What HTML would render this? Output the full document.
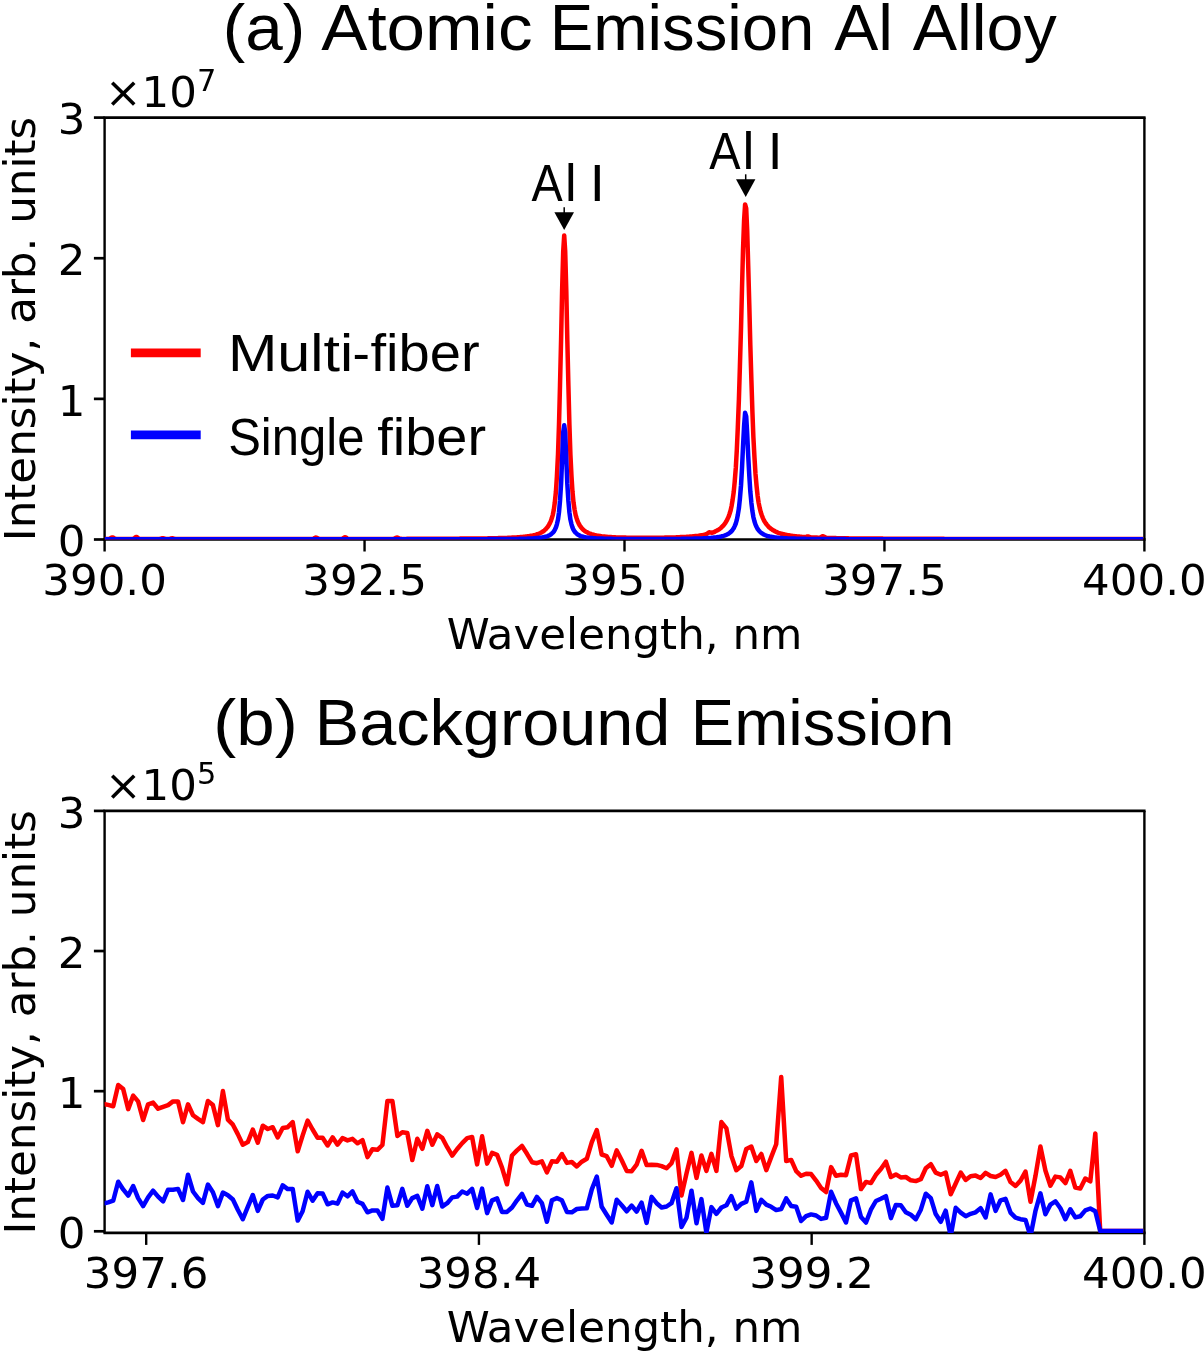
<!DOCTYPE html>
<html lang="en"><head><meta charset="utf-8"><title>Emission spectra</title>
<style>html,body{margin:0;padding:0;background:#fff}svg{display:block;font-family:"DejaVu Sans","Liberation Sans",sans-serif}svg text{white-space:pre}.ls{font-family:"Liberation Sans",sans-serif}</style></head>
<body>
<svg width="1204" height="1352" viewBox="0 0 1204 1352" role="img" aria-label="Emission spectra: multi-fiber versus single fiber" fill="#000">
<rect width="1204" height="1352" fill="#fff"/>
<defs><clipPath id="ca"><rect x="104.6" y="117.6" width="1039.8" height="421.9"/></clipPath><clipPath id="cb"><rect x="104.6" y="810.9" width="1039.8" height="422"/></clipPath></defs>
<path d="M103.4,117.6H1145.6M103.4,539.5H1145.6" stroke="#000" stroke-width="2.7" fill="none"/>
<path d="M104.6,117.6V539.5M1144.4,117.6V539.5" stroke="#000" stroke-width="2.4" fill="none"/>
<line x1="93.9" y1="539.50" x2="104.6" y2="539.50" stroke="#000" stroke-width="2.7"/>
<text x="85.5" y="556.20" text-anchor="end" font-size="43.5">0</text>
<line x1="93.9" y1="398.87" x2="104.6" y2="398.87" stroke="#000" stroke-width="2.7"/>
<text x="85.5" y="415.57" text-anchor="end" font-size="43.5">1</text>
<line x1="93.9" y1="258.23" x2="104.6" y2="258.23" stroke="#000" stroke-width="2.7"/>
<text x="85.5" y="274.93" text-anchor="end" font-size="43.5">2</text>
<line x1="93.9" y1="117.60" x2="104.6" y2="117.60" stroke="#000" stroke-width="2.7"/>
<text x="85.5" y="134.30" text-anchor="end" font-size="43.5">3</text>
<line x1="104.60" y1="539.5" x2="104.60" y2="551.5" stroke="#000" stroke-width="2.4"/>
<text x="104.60" y="594.5" text-anchor="middle" font-size="43.5" textLength="124.6" lengthAdjust="spacingAndGlyphs">390.0</text>
<line x1="364.55" y1="539.5" x2="364.55" y2="551.5" stroke="#000" stroke-width="2.4"/>
<text x="364.55" y="594.5" text-anchor="middle" font-size="43.5" textLength="124.6" lengthAdjust="spacingAndGlyphs">392.5</text>
<line x1="624.50" y1="539.5" x2="624.50" y2="551.5" stroke="#000" stroke-width="2.4"/>
<text x="624.50" y="594.5" text-anchor="middle" font-size="43.5" textLength="124.6" lengthAdjust="spacingAndGlyphs">395.0</text>
<line x1="884.45" y1="539.5" x2="884.45" y2="551.5" stroke="#000" stroke-width="2.4"/>
<text x="884.45" y="594.5" text-anchor="middle" font-size="43.5" textLength="124.6" lengthAdjust="spacingAndGlyphs">397.5</text>
<line x1="1144.40" y1="539.5" x2="1144.40" y2="551.5" stroke="#000" stroke-width="2.4"/>
<text x="1144.40" y="594.5" text-anchor="middle" font-size="43.5" textLength="124.6" lengthAdjust="spacingAndGlyphs">400.0</text>
<text x="624.50" y="648.8" text-anchor="middle" font-size="43.5" textLength="355.7" lengthAdjust="spacingAndGlyphs">Wavelength, nm</text>
<text transform="translate(34.7,328.95) rotate(-90)" text-anchor="middle" font-size="43.5" textLength="424.5" lengthAdjust="spacingAndGlyphs">Intensity, arb. units</text>
<text x="105.1" y="107.00" font-size="43.5">×10<tspan dy="-16.5" font-size="30.45">7</tspan></text>
<g clip-path="url(#ca)" fill="none" stroke-linejoin="round" stroke-linecap="butt">
<path d="M104.6,539.0 L105.6,539.0 L106.7,539.0 L107.7,539.0 L108.8,538.9 L109.8,538.7 L110.8,538.0 L111.9,537.4 L112.9,537.5 L114.0,538.2 L115.0,538.7 L116.0,539.0 L117.1,539.0 L118.1,539.0 L119.2,539.0 L120.2,539.0 L121.2,539.0 L122.3,539.0 L123.3,539.0 L124.4,539.0 L125.4,539.0 L126.4,539.0 L127.5,539.0 L128.5,539.0 L129.6,539.0 L130.6,539.0 L131.6,539.0 L132.7,538.9 L133.7,538.5 L134.8,537.7 L135.8,536.9 L136.8,537.0 L137.9,537.9 L138.9,538.7 L140.0,538.9 L141.0,539.0 L142.0,539.0 L143.1,539.0 L144.1,539.0 L145.2,539.0 L146.2,539.0 L147.2,539.0 L148.3,539.0 L149.3,539.0 L150.4,539.0 L151.4,539.0 L152.4,539.0 L153.5,539.0 L154.5,539.0 L155.6,539.0 L156.6,539.0 L157.6,539.0 L158.7,539.0 L159.7,538.9 L160.7,538.6 L161.8,538.3 L162.8,538.2 L163.9,538.5 L164.9,538.8 L165.9,539.0 L167.0,539.0 L168.0,539.0 L169.1,538.9 L170.1,538.7 L171.1,538.4 L172.2,538.3 L173.2,538.5 L174.3,538.8 L175.3,539.0 L176.3,539.0 L177.4,539.0 L178.4,539.0 L179.5,539.0 L180.5,539.0 L181.5,539.0 L182.6,539.0 L183.6,539.0 L184.7,539.0 L185.7,539.0 L186.7,539.0 L187.8,539.0 L188.8,539.0 L189.9,539.0 L190.9,539.0 L191.9,539.0 L193.0,539.0 L194.0,539.0 L195.1,539.0 L196.1,539.0 L197.1,539.0 L198.2,539.0 L199.2,539.0 L200.3,539.0 L201.3,539.0 L202.3,539.0 L203.4,539.0 L204.4,539.0 L205.5,539.0 L206.5,539.0 L207.5,539.0 L208.6,539.0 L209.6,539.0 L210.7,539.0 L211.7,539.0 L212.7,539.0 L213.8,539.0 L214.8,539.0 L215.9,539.0 L216.9,539.0 L217.9,539.0 L219.0,539.0 L220.0,539.0 L221.1,539.0 L222.1,539.0 L223.1,539.0 L224.2,539.0 L225.2,539.0 L226.3,539.0 L227.3,539.0 L228.3,539.0 L229.4,539.0 L230.4,539.0 L231.5,539.0 L232.5,539.0 L233.5,539.0 L234.6,539.0 L235.6,539.0 L236.7,539.0 L237.7,539.0 L238.7,539.0 L239.8,539.0 L240.8,539.0 L241.9,539.0 L242.9,539.0 L243.9,539.0 L245.0,539.0 L246.0,539.0 L247.1,539.0 L248.1,539.0 L249.1,539.0 L250.2,539.0 L251.2,539.0 L252.3,539.0 L253.3,539.0 L254.3,539.0 L255.4,539.0 L256.4,539.0 L257.5,539.0 L258.5,539.0 L259.5,539.0 L260.6,539.0 L261.6,539.0 L262.6,539.0 L263.7,539.0 L264.7,539.0 L265.8,539.0 L266.8,539.0 L267.8,539.0 L268.9,539.0 L269.9,539.0 L271.0,539.0 L272.0,539.0 L273.0,539.0 L274.1,539.0 L275.1,539.0 L276.2,539.0 L277.2,539.0 L278.2,539.0 L279.3,539.0 L280.3,539.0 L281.4,539.0 L282.4,539.0 L283.4,539.0 L284.5,539.0 L285.5,539.0 L286.6,539.0 L287.6,539.0 L288.6,539.0 L289.7,539.0 L290.7,539.0 L291.8,539.0 L292.8,539.0 L293.8,539.0 L294.9,539.0 L295.9,539.0 L297.0,539.0 L298.0,539.0 L299.0,539.0 L300.1,539.0 L301.1,539.0 L302.2,539.0 L303.2,539.0 L304.2,539.0 L305.3,539.0 L306.3,539.0 L307.4,539.0 L308.4,539.0 L309.4,539.0 L310.5,539.0 L311.5,538.9 L312.6,538.9 L313.6,538.6 L314.6,538.1 L315.7,537.6 L316.7,537.7 L317.8,538.3 L318.8,538.8 L319.8,538.9 L320.9,538.9 L321.9,539.0 L323.0,539.0 L324.0,539.0 L325.0,538.9 L326.1,538.9 L327.1,538.9 L328.2,538.9 L329.2,538.9 L330.2,538.9 L331.3,538.9 L332.3,538.9 L333.4,538.9 L334.4,538.9 L335.4,538.9 L336.5,538.9 L337.5,538.9 L338.6,538.9 L339.6,538.9 L340.6,538.9 L341.7,538.8 L342.7,538.5 L343.8,537.8 L344.8,537.3 L345.8,537.5 L346.9,538.2 L347.9,538.7 L349.0,538.9 L350.0,538.9 L351.0,538.9 L352.1,538.9 L353.1,538.9 L354.2,538.9 L355.2,538.9 L356.2,538.9 L357.3,538.9 L358.3,538.9 L359.4,538.9 L360.4,538.9 L361.4,538.9 L362.5,538.9 L363.5,538.9 L364.6,538.9 L365.6,538.9 L366.6,538.9 L367.7,538.9 L368.7,538.9 L369.7,538.9 L370.8,538.9 L371.8,538.9 L372.9,538.9 L373.9,538.9 L374.9,538.9 L376.0,538.9 L377.0,538.9 L378.1,538.9 L379.1,538.9 L380.1,538.9 L381.2,538.9 L382.2,538.9 L383.3,538.9 L384.3,538.9 L385.3,538.9 L386.4,538.9 L387.4,538.9 L388.5,538.9 L389.5,538.9 L390.5,538.9 L391.6,538.9 L392.6,538.9 L393.7,538.8 L394.7,538.5 L395.7,537.9 L396.8,537.5 L397.8,537.7 L398.9,538.3 L399.9,538.7 L400.9,538.8 L402.0,538.9 L403.0,538.9 L404.1,538.9 L405.1,538.9 L406.1,538.9 L407.2,538.8 L408.2,538.8 L409.3,538.8 L410.3,538.8 L411.3,538.8 L412.4,538.8 L413.4,538.8 L414.5,538.8 L415.5,538.8 L416.5,538.8 L417.6,538.8 L418.6,538.8 L419.7,538.8 L420.7,538.8 L421.7,538.8 L422.8,538.8 L423.8,538.8 L424.9,538.8 L425.9,538.8 L426.9,538.8 L428.0,538.8 L429.0,538.8 L430.1,538.8 L431.1,538.8 L432.1,538.8 L433.2,538.8 L434.2,538.8 L435.3,538.8 L436.3,538.8 L437.3,538.8 L438.4,538.8 L439.4,538.8 L440.5,538.7 L441.5,538.7 L442.5,538.7 L443.6,538.7 L444.6,538.7 L445.7,538.7 L446.7,538.7 L447.7,538.7 L448.8,538.7 L449.8,538.7 L450.9,538.7 L451.9,538.7 L452.9,538.7 L454.0,538.7 L455.0,538.7 L456.1,538.7 L457.1,538.7 L458.1,538.7 L459.2,538.7 L460.2,538.6 L461.3,538.6 L462.3,538.6 L463.3,538.6 L464.4,538.6 L465.4,538.6 L466.5,538.6 L467.5,538.6 L468.5,538.6 L469.6,538.6 L470.6,538.6 L471.6,538.6 L472.7,538.5 L473.7,538.5 L474.8,538.5 L475.8,538.5 L476.8,538.5 L477.9,538.5 L478.9,538.5 L480.0,538.5 L481.0,538.4 L482.0,538.4 L483.1,538.4 L484.1,538.4 L485.2,538.4 L486.2,538.4 L487.2,538.4 L488.3,538.3 L489.3,538.3 L490.4,538.3 L491.4,538.3 L492.4,538.3 L493.5,538.2 L494.5,538.2 L495.6,538.2 L496.6,538.2 L497.6,538.2 L498.7,538.1 L499.7,538.1 L500.8,538.1 L501.8,538.0 L502.8,538.0 L503.9,538.0 L504.9,537.9 L506.0,537.9 L507.0,537.9 L508.0,537.8 L509.1,537.8 L510.1,537.7 L511.2,537.7 L512.2,537.6 L513.2,537.6 L514.3,537.5 L515.3,537.5 L516.4,537.4 L517.4,537.3 L518.4,537.3 L519.5,537.2 L520.5,537.1 L521.6,537.0 L522.6,536.9 L523.6,536.8 L524.7,536.7 L525.7,536.6 L526.8,536.5 L527.8,536.3 L528.8,536.2 L529.9,536.0 L530.9,535.8 L532.0,535.6 L533.0,535.4 L534.0,535.1 L535.1,534.9 L536.1,534.6 L537.2,534.2 L538.2,533.9 L539.2,533.5 L540.3,533.0 L541.3,532.5 L542.4,531.8 L543.4,531.2 L544.4,530.4 L545.5,529.4 L546.5,528.3 L547.6,527.1 L548.6,525.5 L549.6,523.7 L550.7,521.4 L551.7,518.6 L552.8,514.8 L553.8,509.7 L554.8,502.4 L555.9,491.8 L556.9,476.4 L558.0,454.4 L559.0,424.3 L560.0,385.5 L561.1,339.3 L562.1,290.9 L563.2,251.3 L564.2,235.5 L565.2,251.3 L566.3,290.9 L567.3,339.3 L568.4,385.5 L569.4,424.3 L570.4,454.3 L571.5,476.3 L572.5,491.8 L573.5,502.4 L574.6,509.6 L575.6,514.8 L576.7,518.5 L577.7,521.4 L578.7,523.6 L579.8,525.5 L580.8,527.0 L581.9,528.3 L582.9,529.3 L583.9,530.3 L585.0,531.1 L586.0,531.7 L587.1,532.3 L588.1,532.9 L589.1,533.3 L590.2,533.7 L591.2,534.1 L592.3,534.4 L593.3,534.7 L594.3,535.0 L595.4,535.2 L596.4,535.4 L597.5,535.6 L598.5,535.8 L599.5,536.0 L600.6,536.1 L601.6,536.3 L602.7,536.4 L603.7,536.5 L604.7,536.6 L605.8,536.7 L606.8,536.8 L607.9,536.9 L608.9,537.0 L609.9,537.0 L611.0,537.1 L612.0,537.2 L613.1,537.2 L614.1,537.3 L615.1,537.3 L616.2,537.4 L617.2,537.4 L618.3,537.4 L619.3,537.5 L620.3,537.5 L621.4,537.5 L622.4,537.6 L623.5,537.6 L624.5,537.6 L625.5,537.6 L626.6,537.7 L627.6,537.7 L628.7,537.7 L629.7,537.7 L630.7,537.7 L631.8,537.8 L632.8,537.8 L633.9,537.8 L634.9,537.8 L635.9,537.8 L637.0,537.8 L638.0,537.8 L639.1,537.8 L640.1,537.8 L641.1,537.8 L642.2,537.8 L643.2,537.8 L644.3,537.8 L645.3,537.8 L646.3,537.8 L647.4,537.8 L648.4,537.8 L649.5,537.8 L650.5,537.8 L651.5,537.8 L652.6,537.8 L653.6,537.8 L654.7,537.8 L655.7,537.8 L656.7,537.8 L657.8,537.8 L658.8,537.7 L659.9,537.7 L660.9,537.7 L661.9,537.7 L663.0,537.7 L664.0,537.7 L665.1,537.6 L666.1,537.6 L667.1,537.6 L668.2,537.6 L669.2,537.5 L670.3,537.5 L671.3,537.5 L672.3,537.5 L673.4,537.4 L674.4,537.4 L675.5,537.4 L676.5,537.3 L677.5,537.3 L678.6,537.2 L679.6,537.2 L680.6,537.1 L681.7,537.1 L682.7,537.0 L683.8,537.0 L684.8,536.9 L685.8,536.9 L686.9,536.8 L687.9,536.7 L689.0,536.7 L690.0,536.6 L691.0,536.5 L692.1,536.4 L693.1,536.3 L694.2,536.2 L695.2,536.1 L696.2,536.0 L697.3,535.9 L698.3,535.8 L699.4,535.6 L700.4,535.5 L701.4,535.3 L702.5,535.2 L703.5,535.0 L704.6,534.8 L705.6,534.5 L706.6,534.0 L707.7,533.2 L708.7,532.5 L709.8,532.3 L710.8,532.6 L711.8,532.7 L712.9,532.5 L713.9,532.1 L715.0,531.6 L716.0,531.1 L717.0,530.6 L718.1,530.0 L719.1,529.3 L720.2,528.5 L721.2,527.7 L722.2,526.7 L723.3,525.6 L724.3,524.3 L725.4,522.9 L726.4,521.2 L727.4,519.2 L728.5,516.9 L729.5,514.0 L730.6,510.5 L731.6,505.9 L732.6,500.0 L733.7,492.1 L734.7,481.7 L735.8,468.0 L736.8,450.2 L737.8,427.6 L738.9,399.7 L739.9,366.5 L741.0,328.8 L742.0,288.8 L743.0,250.4 L744.1,219.9 L745.1,204.4 L746.2,208.4 L747.2,230.7 L748.2,265.2 L749.3,304.9 L750.3,344.3 L751.4,380.4 L752.4,411.5 L753.4,437.3 L754.5,457.9 L755.5,474.0 L756.6,486.3 L757.6,495.6 L758.6,502.6 L759.7,507.9 L760.7,512.0 L761.8,515.3 L762.8,517.9 L763.8,520.1 L764.9,522.0 L765.9,523.5 L767.0,524.9 L768.0,526.1 L769.0,527.2 L770.1,528.1 L771.1,528.9 L772.2,529.6 L773.2,530.3 L774.2,530.9 L775.3,531.4 L776.3,531.9 L777.4,532.4 L778.4,532.8 L779.4,533.1 L780.5,533.5 L781.5,533.8 L782.5,534.0 L783.6,534.3 L784.6,534.5 L785.7,534.8 L786.7,535.0 L787.7,535.2 L788.8,535.3 L789.8,535.5 L790.9,535.7 L791.9,535.8 L792.9,535.9 L794.0,536.1 L795.0,536.2 L796.1,536.3 L797.1,536.4 L798.1,536.5 L799.2,536.6 L800.2,536.7 L801.3,536.8 L802.3,536.9 L803.3,536.9 L804.4,537.0 L805.4,536.9 L806.5,536.7 L807.5,536.4 L808.5,536.5 L809.6,536.9 L810.6,537.2 L811.7,537.4 L812.7,537.5 L813.7,537.5 L814.8,537.6 L815.8,537.6 L816.9,537.6 L817.9,537.7 L818.9,537.7 L820.0,537.6 L821.0,537.2 L822.1,536.5 L823.1,536.2 L824.1,536.7 L825.2,537.4 L826.2,537.8 L827.3,537.9 L828.3,538.0 L829.3,538.0 L830.4,538.0 L831.4,538.1 L832.5,538.1 L833.5,538.1 L834.5,538.1 L835.6,538.1 L836.6,538.2 L837.7,538.2 L838.7,538.2 L839.7,538.2 L840.8,538.2 L841.8,538.3 L842.9,538.3 L843.9,538.3 L844.9,538.3 L846.0,538.3 L847.0,538.3 L848.1,538.3 L849.1,538.4 L850.1,538.4 L851.2,538.4 L852.2,538.4 L853.3,538.4 L854.3,538.4 L855.3,538.4 L856.4,538.4 L857.4,538.5 L858.5,538.5 L859.5,538.5 L860.5,538.5 L861.6,538.5 L862.6,538.5 L863.7,538.5 L864.7,538.5 L865.7,538.5 L866.8,538.5 L867.8,538.5 L868.9,538.6 L869.9,538.6 L870.9,538.6 L872.0,538.6 L873.0,538.6 L874.1,538.6 L875.1,538.6 L876.1,538.6 L877.2,538.6 L878.2,538.6 L879.3,538.6 L880.3,538.6 L881.3,538.6 L882.4,538.6 L883.4,538.7 L884.5,538.7 L885.5,538.7 L886.5,538.7 L887.6,538.7 L888.6,538.7 L889.6,538.7 L890.7,538.7 L891.7,538.7 L892.8,538.7 L893.8,538.7 L894.8,538.7 L895.9,538.7 L896.9,538.7 L898.0,538.7 L899.0,538.7 L900.0,538.7 L901.1,538.7 L902.1,538.7 L903.2,538.7 L904.2,538.7 L905.2,538.7 L906.3,538.8 L907.3,538.8 L908.4,538.8 L909.4,538.8 L910.4,538.8 L911.5,538.8 L912.5,538.8 L913.6,538.8 L914.6,538.8 L915.6,538.8 L916.7,538.8 L917.7,538.8 L918.8,538.8 L919.8,538.8 L920.8,538.8 L921.9,538.8 L922.9,538.8 L924.0,538.8 L925.0,538.8 L926.0,538.8 L927.1,538.8 L928.1,538.8 L929.2,538.8 L930.2,538.8 L931.2,538.8 L932.3,538.8 L933.3,538.8 L934.4,538.8 L935.4,538.8 L936.4,538.8 L937.5,538.8 L938.5,538.8 L939.6,538.8 L940.6,538.8 L941.6,538.8 L942.7,538.8 L943.7,538.8 L944.8,538.9 L945.8,538.9 L946.8,538.9 L947.9,538.9 L948.9,538.9 L950.0,538.9 L951.0,538.9 L952.0,538.9 L953.1,538.9 L954.1,538.9 L955.2,538.9 L956.2,538.9 L957.2,538.9 L958.3,538.9 L959.3,538.9 L960.4,538.9 L961.4,538.9 L962.4,538.9 L963.5,538.9 L964.5,538.9 L965.6,538.9 L966.6,538.9 L967.6,538.9 L968.7,538.9 L969.7,538.9 L970.8,538.9 L971.8,538.9 L972.8,538.9 L973.9,538.9 L974.9,538.9 L976.0,538.9 L977.0,538.9 L978.0,538.9 L979.1,538.9 L980.1,538.9 L981.2,538.9 L982.2,538.9 L983.2,538.9 L984.3,538.9 L985.3,538.9 L986.4,538.9 L987.4,538.9 L988.4,538.9 L989.5,538.9 L990.5,538.9 L991.5,538.9 L992.6,538.9 L993.6,538.9 L994.7,538.9 L995.7,538.9 L996.7,538.9 L997.8,538.9 L998.8,538.9 L999.9,538.9 L1000.9,538.9 L1001.9,538.9 L1003.0,538.9 L1004.0,538.9 L1005.1,538.9 L1006.1,538.9 L1007.1,538.9 L1008.2,538.9 L1009.2,538.9 L1010.3,538.9 L1011.3,538.9 L1012.3,538.9 L1013.4,538.9 L1014.4,538.9 L1015.5,538.9 L1016.5,538.9 L1017.5,538.9 L1018.6,538.9 L1019.6,538.9 L1020.7,538.9 L1021.7,538.9 L1022.7,538.9 L1023.8,538.9 L1024.8,538.9 L1025.9,538.9 L1026.9,538.9 L1027.9,538.9 L1029.0,538.9 L1030.0,538.9 L1031.1,538.9 L1032.1,538.9 L1033.1,539.0 L1034.2,539.0 L1035.2,539.0 L1036.3,539.0 L1037.3,539.0 L1038.3,539.0 L1039.4,539.0 L1040.4,539.0 L1041.5,539.0 L1042.5,539.0 L1043.5,539.0 L1044.6,539.0 L1045.6,539.0 L1046.7,539.0 L1047.7,539.0 L1048.7,539.0 L1049.8,539.0 L1050.8,539.0 L1051.9,539.0 L1052.9,539.0 L1053.9,539.0 L1055.0,539.0 L1056.0,539.0 L1057.1,539.0 L1058.1,539.0 L1059.1,539.0 L1060.2,539.0 L1061.2,539.0 L1062.3,539.0 L1063.3,539.0 L1064.3,539.0 L1065.4,539.0 L1066.4,539.0 L1067.5,539.0 L1068.5,539.0 L1069.5,539.0 L1070.6,539.0 L1071.6,539.0 L1072.7,539.0 L1073.7,539.0 L1074.7,539.0 L1075.8,539.0 L1076.8,539.0 L1077.9,539.0 L1078.9,539.0 L1079.9,539.0 L1081.0,539.0 L1082.0,539.0 L1083.1,539.0 L1084.1,539.0 L1085.1,539.0 L1086.2,539.0 L1087.2,539.0 L1088.3,539.0 L1089.3,539.0 L1090.3,539.0 L1091.4,539.0 L1092.4,539.0 L1093.4,539.0 L1094.5,539.0 L1095.5,539.0 L1096.6,539.0 L1097.6,539.0 L1098.6,539.0 L1099.7,539.0 L1100.7,539.0 L1101.8,539.0 L1102.8,539.0 L1103.8,539.0 L1104.9,539.0 L1105.9,539.0 L1107.0,539.0 L1108.0,539.0 L1109.0,539.0 L1110.1,539.0 L1111.1,539.0 L1112.2,539.0 L1113.2,539.0 L1114.2,539.0 L1115.3,539.0 L1116.3,539.0 L1117.4,539.0 L1118.4,539.0 L1119.4,539.0 L1120.5,539.0 L1121.5,539.0 L1122.6,539.0 L1123.6,539.0 L1124.6,539.0 L1125.7,539.0 L1126.7,539.0 L1127.8,539.0 L1128.8,539.0 L1129.8,539.0 L1130.9,539.0 L1131.9,539.0 L1133.0,539.0 L1134.0,539.0 L1135.0,539.0 L1136.1,539.0 L1137.1,539.0 L1138.2,539.0 L1139.2,539.0 L1140.2,539.0 L1141.3,539.0 L1142.3,539.0 L1143.2,539.0 L1143.2,539.0" stroke="#f00" stroke-width="4.5"/>
<path d="M104.6,539.3 L105.6,539.3 L106.7,539.3 L107.7,539.3 L108.8,539.3 L109.8,539.3 L110.8,539.3 L111.9,539.3 L112.9,539.3 L114.0,539.3 L115.0,539.3 L116.0,539.3 L117.1,539.3 L118.1,539.3 L119.2,539.3 L120.2,539.3 L121.2,539.3 L122.3,539.3 L123.3,539.3 L124.4,539.3 L125.4,539.3 L126.4,539.3 L127.5,539.3 L128.5,539.3 L129.6,539.3 L130.6,539.3 L131.6,539.3 L132.7,539.3 L133.7,539.3 L134.8,539.3 L135.8,539.3 L136.8,539.3 L137.9,539.3 L138.9,539.3 L140.0,539.3 L141.0,539.3 L142.0,539.3 L143.1,539.3 L144.1,539.3 L145.2,539.3 L146.2,539.3 L147.2,539.3 L148.3,539.3 L149.3,539.3 L150.4,539.3 L151.4,539.3 L152.4,539.3 L153.5,539.3 L154.5,539.3 L155.6,539.3 L156.6,539.3 L157.6,539.3 L158.7,539.3 L159.7,539.3 L160.7,539.3 L161.8,539.3 L162.8,539.3 L163.9,539.3 L164.9,539.3 L165.9,539.3 L167.0,539.3 L168.0,539.3 L169.1,539.3 L170.1,539.3 L171.1,539.3 L172.2,539.3 L173.2,539.3 L174.3,539.3 L175.3,539.3 L176.3,539.3 L177.4,539.3 L178.4,539.3 L179.5,539.3 L180.5,539.3 L181.5,539.3 L182.6,539.3 L183.6,539.3 L184.7,539.3 L185.7,539.3 L186.7,539.3 L187.8,539.3 L188.8,539.3 L189.9,539.3 L190.9,539.3 L191.9,539.3 L193.0,539.3 L194.0,539.3 L195.1,539.3 L196.1,539.3 L197.1,539.3 L198.2,539.3 L199.2,539.3 L200.3,539.3 L201.3,539.3 L202.3,539.3 L203.4,539.3 L204.4,539.3 L205.5,539.3 L206.5,539.3 L207.5,539.3 L208.6,539.3 L209.6,539.3 L210.7,539.3 L211.7,539.3 L212.7,539.3 L213.8,539.3 L214.8,539.3 L215.9,539.3 L216.9,539.3 L217.9,539.3 L219.0,539.3 L220.0,539.3 L221.1,539.3 L222.1,539.3 L223.1,539.3 L224.2,539.3 L225.2,539.3 L226.3,539.3 L227.3,539.3 L228.3,539.3 L229.4,539.3 L230.4,539.3 L231.5,539.3 L232.5,539.3 L233.5,539.3 L234.6,539.3 L235.6,539.3 L236.7,539.3 L237.7,539.3 L238.7,539.3 L239.8,539.3 L240.8,539.3 L241.9,539.3 L242.9,539.3 L243.9,539.3 L245.0,539.3 L246.0,539.3 L247.1,539.3 L248.1,539.3 L249.1,539.3 L250.2,539.3 L251.2,539.3 L252.3,539.3 L253.3,539.3 L254.3,539.3 L255.4,539.3 L256.4,539.3 L257.5,539.3 L258.5,539.3 L259.5,539.3 L260.6,539.3 L261.6,539.3 L262.6,539.3 L263.7,539.3 L264.7,539.3 L265.8,539.3 L266.8,539.3 L267.8,539.3 L268.9,539.3 L269.9,539.3 L271.0,539.3 L272.0,539.3 L273.0,539.3 L274.1,539.3 L275.1,539.3 L276.2,539.3 L277.2,539.3 L278.2,539.3 L279.3,539.3 L280.3,539.3 L281.4,539.3 L282.4,539.3 L283.4,539.3 L284.5,539.3 L285.5,539.3 L286.6,539.3 L287.6,539.3 L288.6,539.3 L289.7,539.3 L290.7,539.3 L291.8,539.3 L292.8,539.3 L293.8,539.3 L294.9,539.3 L295.9,539.3 L297.0,539.3 L298.0,539.3 L299.0,539.3 L300.1,539.3 L301.1,539.3 L302.2,539.3 L303.2,539.3 L304.2,539.3 L305.3,539.3 L306.3,539.3 L307.4,539.3 L308.4,539.3 L309.4,539.3 L310.5,539.3 L311.5,539.3 L312.6,539.3 L313.6,539.3 L314.6,539.3 L315.7,539.3 L316.7,539.3 L317.8,539.3 L318.8,539.3 L319.8,539.3 L320.9,539.3 L321.9,539.3 L323.0,539.3 L324.0,539.3 L325.0,539.3 L326.1,539.3 L327.1,539.3 L328.2,539.3 L329.2,539.3 L330.2,539.3 L331.3,539.3 L332.3,539.3 L333.4,539.3 L334.4,539.3 L335.4,539.3 L336.5,539.3 L337.5,539.3 L338.6,539.3 L339.6,539.3 L340.6,539.3 L341.7,539.3 L342.7,539.3 L343.8,539.3 L344.8,539.3 L345.8,539.3 L346.9,539.3 L347.9,539.3 L349.0,539.3 L350.0,539.3 L351.0,539.3 L352.1,539.3 L353.1,539.3 L354.2,539.3 L355.2,539.3 L356.2,539.3 L357.3,539.3 L358.3,539.3 L359.4,539.3 L360.4,539.3 L361.4,539.3 L362.5,539.3 L363.5,539.3 L364.6,539.3 L365.6,539.3 L366.6,539.3 L367.7,539.3 L368.7,539.3 L369.7,539.3 L370.8,539.3 L371.8,539.3 L372.9,539.3 L373.9,539.3 L374.9,539.3 L376.0,539.3 L377.0,539.3 L378.1,539.3 L379.1,539.3 L380.1,539.3 L381.2,539.3 L382.2,539.3 L383.3,539.3 L384.3,539.3 L385.3,539.3 L386.4,539.3 L387.4,539.3 L388.5,539.3 L389.5,539.3 L390.5,539.3 L391.6,539.3 L392.6,539.3 L393.7,539.3 L394.7,539.3 L395.7,539.3 L396.8,539.3 L397.8,539.3 L398.9,539.3 L399.9,539.3 L400.9,539.3 L402.0,539.3 L403.0,539.3 L404.1,539.3 L405.1,539.3 L406.1,539.3 L407.2,539.3 L408.2,539.3 L409.3,539.3 L410.3,539.3 L411.3,539.3 L412.4,539.3 L413.4,539.3 L414.5,539.3 L415.5,539.3 L416.5,539.3 L417.6,539.3 L418.6,539.3 L419.7,539.3 L420.7,539.3 L421.7,539.3 L422.8,539.3 L423.8,539.3 L424.9,539.3 L425.9,539.3 L426.9,539.3 L428.0,539.3 L429.0,539.3 L430.1,539.3 L431.1,539.3 L432.1,539.3 L433.2,539.3 L434.2,539.3 L435.3,539.3 L436.3,539.3 L437.3,539.3 L438.4,539.3 L439.4,539.3 L440.5,539.3 L441.5,539.3 L442.5,539.3 L443.6,539.3 L444.6,539.2 L445.7,539.2 L446.7,539.2 L447.7,539.2 L448.8,539.2 L449.8,539.2 L450.9,539.2 L451.9,539.2 L452.9,539.2 L454.0,539.2 L455.0,539.2 L456.1,539.2 L457.1,539.2 L458.1,539.2 L459.2,539.2 L460.2,539.2 L461.3,539.2 L462.3,539.2 L463.3,539.2 L464.4,539.2 L465.4,539.2 L466.5,539.2 L467.5,539.2 L468.5,539.2 L469.6,539.2 L470.6,539.2 L471.6,539.2 L472.7,539.2 L473.7,539.2 L474.8,539.2 L475.8,539.2 L476.8,539.2 L477.9,539.2 L478.9,539.2 L480.0,539.2 L481.0,539.2 L482.0,539.2 L483.1,539.2 L484.1,539.2 L485.2,539.2 L486.2,539.2 L487.2,539.2 L488.3,539.1 L489.3,539.1 L490.4,539.1 L491.4,539.1 L492.4,539.1 L493.5,539.1 L494.5,539.1 L495.6,539.1 L496.6,539.1 L497.6,539.1 L498.7,539.1 L499.7,539.1 L500.8,539.1 L501.8,539.1 L502.8,539.1 L503.9,539.1 L504.9,539.0 L506.0,539.0 L507.0,539.0 L508.0,539.0 L509.1,539.0 L510.1,539.0 L511.2,539.0 L512.2,539.0 L513.2,539.0 L514.3,538.9 L515.3,538.9 L516.4,538.9 L517.4,538.9 L518.4,538.9 L519.5,538.8 L520.5,538.8 L521.6,538.8 L522.6,538.8 L523.6,538.7 L524.7,538.7 L525.7,538.7 L526.8,538.7 L527.8,538.6 L528.8,538.6 L529.9,538.5 L530.9,538.5 L532.0,538.4 L533.0,538.4 L534.0,538.3 L535.1,538.2 L536.1,538.1 L537.2,538.1 L538.2,538.0 L539.2,537.8 L540.3,537.7 L541.3,537.6 L542.4,537.4 L543.4,537.2 L544.4,537.0 L545.5,536.8 L546.5,536.5 L547.6,536.1 L548.6,535.7 L549.6,535.2 L550.7,534.5 L551.7,533.7 L552.8,532.7 L553.8,531.5 L554.8,529.8 L555.9,527.5 L556.9,524.3 L558.0,519.6 L559.0,512.3 L560.0,501.0 L561.1,483.7 L562.1,459.4 L563.2,432.4 L564.2,425.2 L565.2,432.4 L566.3,459.4 L567.3,483.7 L568.4,501.0 L569.4,512.3 L570.4,519.6 L571.5,524.3 L572.5,527.5 L573.5,529.8 L574.6,531.5 L575.6,532.7 L576.7,533.7 L577.7,534.5 L578.7,535.1 L579.8,535.7 L580.8,536.1 L581.9,536.4 L582.9,536.7 L583.9,537.0 L585.0,537.2 L586.0,537.4 L587.1,537.6 L588.1,537.7 L589.1,537.8 L590.2,537.9 L591.2,538.0 L592.3,538.1 L593.3,538.2 L594.3,538.3 L595.4,538.3 L596.4,538.4 L597.5,538.4 L598.5,538.5 L599.5,538.5 L600.6,538.6 L601.6,538.6 L602.7,538.6 L603.7,538.7 L604.7,538.7 L605.8,538.7 L606.8,538.7 L607.9,538.8 L608.9,538.8 L609.9,538.8 L611.0,538.8 L612.0,538.8 L613.1,538.9 L614.1,538.9 L615.1,538.9 L616.2,538.9 L617.2,538.9 L618.3,538.9 L619.3,538.9 L620.3,538.9 L621.4,538.9 L622.4,539.0 L623.5,539.0 L624.5,539.0 L625.5,539.0 L626.6,539.0 L627.6,539.0 L628.7,539.0 L629.7,539.0 L630.7,539.0 L631.8,539.0 L632.8,539.0 L633.9,539.0 L634.9,539.0 L635.9,539.0 L637.0,539.0 L638.0,539.0 L639.1,539.0 L640.1,539.0 L641.1,539.0 L642.2,539.0 L643.2,539.0 L644.3,539.0 L645.3,539.0 L646.3,539.0 L647.4,539.0 L648.4,539.0 L649.5,539.0 L650.5,539.0 L651.5,539.0 L652.6,539.0 L653.6,539.0 L654.7,539.0 L655.7,539.0 L656.7,539.0 L657.8,539.0 L658.8,539.0 L659.9,539.0 L660.9,539.0 L661.9,539.0 L663.0,539.0 L664.0,539.0 L665.1,539.0 L666.1,539.0 L667.1,539.0 L668.2,539.0 L669.2,539.0 L670.3,539.0 L671.3,538.9 L672.3,538.9 L673.4,538.9 L674.4,538.9 L675.5,538.9 L676.5,538.9 L677.5,538.9 L678.6,538.9 L679.6,538.9 L680.6,538.9 L681.7,538.8 L682.7,538.8 L683.8,538.8 L684.8,538.8 L685.8,538.8 L686.9,538.8 L687.9,538.8 L689.0,538.7 L690.0,538.7 L691.0,538.7 L692.1,538.7 L693.1,538.7 L694.2,538.6 L695.2,538.6 L696.2,538.6 L697.3,538.6 L698.3,538.5 L699.4,538.5 L700.4,538.5 L701.4,538.4 L702.5,538.4 L703.5,538.3 L704.6,538.3 L705.6,538.2 L706.6,538.2 L707.7,538.1 L708.7,538.0 L709.8,538.0 L710.8,537.9 L711.8,537.8 L712.9,537.7 L713.9,537.6 L715.0,537.5 L716.0,537.4 L717.0,537.2 L718.1,537.1 L719.1,536.9 L720.2,536.7 L721.2,536.5 L722.2,536.2 L723.3,535.9 L724.3,535.6 L725.4,535.2 L726.4,534.8 L727.4,534.3 L728.5,533.7 L729.5,533.0 L730.6,532.1 L731.6,531.1 L732.6,529.8 L733.7,528.2 L734.7,526.1 L735.8,523.5 L736.8,519.9 L737.8,515.0 L738.9,508.2 L739.9,498.7 L741.0,485.5 L742.0,468.1 L743.0,446.9 L744.1,425.6 L745.1,412.8 L746.2,416.3 L747.2,433.7 L748.2,455.7 L749.3,475.6 L750.3,491.3 L751.4,502.9 L752.4,511.2 L753.4,517.2 L754.5,521.5 L755.5,524.6 L756.6,527.0 L757.6,528.9 L758.6,530.3 L759.7,531.5 L760.7,532.5 L761.8,533.3 L762.8,533.9 L763.8,534.5 L764.9,535.0 L765.9,535.4 L767.0,535.8 L768.0,536.1 L769.0,536.3 L770.1,536.6 L771.1,536.8 L772.2,537.0 L773.2,537.1 L774.2,537.3 L775.3,537.4 L776.3,537.6 L777.4,537.7 L778.4,537.8 L779.4,537.9 L780.5,537.9 L781.5,538.0 L782.5,538.1 L783.6,538.2 L784.6,538.2 L785.7,538.3 L786.7,538.3 L787.7,538.4 L788.8,538.4 L789.8,538.5 L790.9,538.5 L791.9,538.5 L792.9,538.6 L794.0,538.6 L795.0,538.6 L796.1,538.7 L797.1,538.7 L798.1,538.7 L799.2,538.7 L800.2,538.8 L801.3,538.8 L802.3,538.8 L803.3,538.8 L804.4,538.8 L805.4,538.8 L806.5,538.9 L807.5,538.9 L808.5,538.9 L809.6,538.9 L810.6,538.9 L811.7,538.9 L812.7,538.9 L813.7,539.0 L814.8,539.0 L815.8,539.0 L816.9,539.0 L817.9,539.0 L818.9,539.0 L820.0,539.0 L821.0,539.0 L822.1,539.0 L823.1,539.0 L824.1,539.0 L825.2,539.1 L826.2,539.1 L827.3,539.1 L828.3,539.1 L829.3,539.1 L830.4,539.1 L831.4,539.1 L832.5,539.1 L833.5,539.1 L834.5,539.1 L835.6,539.1 L836.6,539.1 L837.7,539.1 L838.7,539.1 L839.7,539.1 L840.8,539.1 L841.8,539.1 L842.9,539.1 L843.9,539.1 L844.9,539.1 L846.0,539.2 L847.0,539.2 L848.1,539.2 L849.1,539.2 L850.1,539.2 L851.2,539.2 L852.2,539.2 L853.3,539.2 L854.3,539.2 L855.3,539.2 L856.4,539.2 L857.4,539.2 L858.5,539.2 L859.5,539.2 L860.5,539.2 L861.6,539.2 L862.6,539.2 L863.7,539.2 L864.7,539.2 L865.7,539.2 L866.8,539.2 L867.8,539.2 L868.9,539.2 L869.9,539.2 L870.9,539.2 L872.0,539.2 L873.0,539.2 L874.1,539.2 L875.1,539.2 L876.1,539.2 L877.2,539.2 L878.2,539.2 L879.3,539.2 L880.3,539.2 L881.3,539.2 L882.4,539.2 L883.4,539.2 L884.5,539.2 L885.5,539.2 L886.5,539.2 L887.6,539.2 L888.6,539.2 L889.6,539.2 L890.7,539.2 L891.7,539.2 L892.8,539.2 L893.8,539.2 L894.8,539.2 L895.9,539.2 L896.9,539.2 L898.0,539.3 L899.0,539.3 L900.0,539.3 L901.1,539.3 L902.1,539.3 L903.2,539.3 L904.2,539.3 L905.2,539.3 L906.3,539.3 L907.3,539.3 L908.4,539.3 L909.4,539.3 L910.4,539.3 L911.5,539.3 L912.5,539.3 L913.6,539.3 L914.6,539.3 L915.6,539.3 L916.7,539.3 L917.7,539.3 L918.8,539.3 L919.8,539.3 L920.8,539.3 L921.9,539.3 L922.9,539.3 L924.0,539.3 L925.0,539.3 L926.0,539.3 L927.1,539.3 L928.1,539.3 L929.2,539.3 L930.2,539.3 L931.2,539.3 L932.3,539.3 L933.3,539.3 L934.4,539.3 L935.4,539.3 L936.4,539.3 L937.5,539.3 L938.5,539.3 L939.6,539.3 L940.6,539.3 L941.6,539.3 L942.7,539.3 L943.7,539.3 L944.8,539.3 L945.8,539.3 L946.8,539.3 L947.9,539.3 L948.9,539.3 L950.0,539.3 L951.0,539.3 L952.0,539.3 L953.1,539.3 L954.1,539.3 L955.2,539.3 L956.2,539.3 L957.2,539.3 L958.3,539.3 L959.3,539.3 L960.4,539.3 L961.4,539.3 L962.4,539.3 L963.5,539.3 L964.5,539.3 L965.6,539.3 L966.6,539.3 L967.6,539.3 L968.7,539.3 L969.7,539.3 L970.8,539.3 L971.8,539.3 L972.8,539.3 L973.9,539.3 L974.9,539.3 L976.0,539.3 L977.0,539.3 L978.0,539.3 L979.1,539.3 L980.1,539.3 L981.2,539.3 L982.2,539.3 L983.2,539.3 L984.3,539.3 L985.3,539.3 L986.4,539.3 L987.4,539.3 L988.4,539.3 L989.5,539.3 L990.5,539.3 L991.5,539.3 L992.6,539.3 L993.6,539.3 L994.7,539.3 L995.7,539.3 L996.7,539.3 L997.8,539.3 L998.8,539.3 L999.9,539.3 L1000.9,539.3 L1001.9,539.3 L1003.0,539.3 L1004.0,539.3 L1005.1,539.3 L1006.1,539.3 L1007.1,539.3 L1008.2,539.3 L1009.2,539.3 L1010.3,539.3 L1011.3,539.3 L1012.3,539.3 L1013.4,539.3 L1014.4,539.3 L1015.5,539.3 L1016.5,539.3 L1017.5,539.3 L1018.6,539.3 L1019.6,539.3 L1020.7,539.3 L1021.7,539.3 L1022.7,539.3 L1023.8,539.3 L1024.8,539.3 L1025.9,539.3 L1026.9,539.3 L1027.9,539.3 L1029.0,539.3 L1030.0,539.3 L1031.1,539.3 L1032.1,539.3 L1033.1,539.3 L1034.2,539.3 L1035.2,539.3 L1036.3,539.3 L1037.3,539.3 L1038.3,539.3 L1039.4,539.3 L1040.4,539.3 L1041.5,539.3 L1042.5,539.3 L1043.5,539.3 L1044.6,539.3 L1045.6,539.3 L1046.7,539.3 L1047.7,539.3 L1048.7,539.3 L1049.8,539.3 L1050.8,539.3 L1051.9,539.3 L1052.9,539.3 L1053.9,539.3 L1055.0,539.3 L1056.0,539.3 L1057.1,539.3 L1058.1,539.3 L1059.1,539.3 L1060.2,539.3 L1061.2,539.3 L1062.3,539.3 L1063.3,539.3 L1064.3,539.3 L1065.4,539.3 L1066.4,539.3 L1067.5,539.3 L1068.5,539.3 L1069.5,539.3 L1070.6,539.3 L1071.6,539.3 L1072.7,539.3 L1073.7,539.3 L1074.7,539.3 L1075.8,539.3 L1076.8,539.3 L1077.9,539.3 L1078.9,539.3 L1079.9,539.3 L1081.0,539.3 L1082.0,539.3 L1083.1,539.3 L1084.1,539.3 L1085.1,539.3 L1086.2,539.3 L1087.2,539.3 L1088.3,539.3 L1089.3,539.3 L1090.3,539.3 L1091.4,539.3 L1092.4,539.3 L1093.4,539.3 L1094.5,539.3 L1095.5,539.3 L1096.6,539.3 L1097.6,539.3 L1098.6,539.3 L1099.7,539.3 L1100.7,539.3 L1101.8,539.3 L1102.8,539.3 L1103.8,539.3 L1104.9,539.3 L1105.9,539.3 L1107.0,539.3 L1108.0,539.3 L1109.0,539.3 L1110.1,539.3 L1111.1,539.3 L1112.2,539.3 L1113.2,539.3 L1114.2,539.3 L1115.3,539.3 L1116.3,539.3 L1117.4,539.3 L1118.4,539.3 L1119.4,539.3 L1120.5,539.3 L1121.5,539.3 L1122.6,539.3 L1123.6,539.3 L1124.6,539.3 L1125.7,539.3 L1126.7,539.3 L1127.8,539.3 L1128.8,539.3 L1129.8,539.3 L1130.9,539.3 L1131.9,539.3 L1133.0,539.3 L1134.0,539.3 L1135.0,539.3 L1136.1,539.3 L1137.1,539.3 L1138.2,539.3 L1139.2,539.3 L1140.2,539.3 L1141.3,539.3 L1142.3,539.3 L1143.2,539.3 L1143.2,539.3" stroke="#00f" stroke-width="4.5"/>
</g>
<text y="50.4" class="ls" font-size="64"><tspan x="222.7" textLength="82.4" lengthAdjust="spacingAndGlyphs">(a)</tspan> <tspan x="321.3" textLength="211.2" lengthAdjust="spacingAndGlyphs">Atomic</tspan> <tspan x="549.7" textLength="264.6" lengthAdjust="spacingAndGlyphs">Emission</tspan> <tspan x="834.2" textLength="58.8" lengthAdjust="spacingAndGlyphs">Al</tspan> <tspan x="912.7" textLength="144.1" lengthAdjust="spacingAndGlyphs">Alloy</tspan></text>
<text y="745.4" class="ls" font-size="64"><tspan x="213.3" textLength="84.4" lengthAdjust="spacingAndGlyphs">(b)</tspan> <tspan x="314.8" textLength="355.6" lengthAdjust="spacingAndGlyphs">Background</tspan> <tspan x="690.8" textLength="263.6" lengthAdjust="spacingAndGlyphs">Emission</tspan></text>
<line x1="130.9" y1="352.9" x2="200.7" y2="352.9" stroke="#f00" stroke-width="8.8"/>
<line x1="130.9" y1="434.9" x2="200.7" y2="434.9" stroke="#00f" stroke-width="8.8"/>
<text y="371.2" class="ls" font-size="51"><tspan x="227.9" textLength="125.2" lengthAdjust="spacingAndGlyphs">Multi</tspan><tspan x="352.6" textLength="17.4" lengthAdjust="spacingAndGlyphs">-</tspan><tspan x="370.4" textLength="109.2" lengthAdjust="spacingAndGlyphs">fiber</tspan></text>
<text y="454.8" class="ls" font-size="51"><tspan x="228.2" textLength="136.2" lengthAdjust="spacingAndGlyphs">Single</tspan> <tspan x="377.3" textLength="108.8" lengthAdjust="spacingAndGlyphs">fiber</tspan></text>
<text y="200.7" class="ls" font-size="51"><tspan x="531.5" textLength="31.2" lengthAdjust="spacingAndGlyphs">A</tspan><tspan x="565.0" textLength="11.6" lengthAdjust="spacingAndGlyphs">l</tspan> <tspan x="589.8" textLength="15.1" lengthAdjust="spacingAndGlyphs">I</tspan></text>
<line x1="564.2" y1="207.3" x2="564.2" y2="214.2" stroke="#000" stroke-width="1.5"/>
<polygon points="554.4,212.2 574.0,212.2 564.2,229.9" fill="#000"/>
<text y="168.7" class="ls" font-size="51"><tspan x="709.2" textLength="31.3" lengthAdjust="spacingAndGlyphs">A</tspan><tspan x="742.4" textLength="11.9" lengthAdjust="spacingAndGlyphs">l</tspan> <tspan x="767.8" textLength="14.8" lengthAdjust="spacingAndGlyphs">I</tspan></text>
<line x1="745.7" y1="174.3" x2="745.7" y2="181.2" stroke="#000" stroke-width="1.5"/>
<polygon points="736.0,179.2 755.4,179.2 745.7,196.9" fill="#000"/>
<path d="M103.4,810.9H1145.6M103.4,1232.9H1145.6" stroke="#000" stroke-width="2.7" fill="none"/>
<path d="M104.6,810.9V1232.9M1144.4,810.9V1232.9" stroke="#000" stroke-width="2.4" fill="none"/>
<line x1="93.9" y1="1231.30" x2="104.6" y2="1231.30" stroke="#000" stroke-width="2.7"/>
<text x="85.5" y="1248.00" text-anchor="end" font-size="43.5">0</text>
<line x1="93.9" y1="1091.17" x2="104.6" y2="1091.17" stroke="#000" stroke-width="2.7"/>
<text x="85.5" y="1107.87" text-anchor="end" font-size="43.5">1</text>
<line x1="93.9" y1="951.03" x2="104.6" y2="951.03" stroke="#000" stroke-width="2.7"/>
<text x="85.5" y="967.73" text-anchor="end" font-size="43.5">2</text>
<line x1="93.9" y1="810.90" x2="104.6" y2="810.90" stroke="#000" stroke-width="2.7"/>
<text x="85.5" y="827.60" text-anchor="end" font-size="43.5">3</text>
<line x1="146.19" y1="1232.9" x2="146.19" y2="1244.9" stroke="#000" stroke-width="2.4"/>
<text x="146.19" y="1287.7" text-anchor="middle" font-size="43.5" textLength="124.6" lengthAdjust="spacingAndGlyphs">397.6</text>
<line x1="478.93" y1="1232.9" x2="478.93" y2="1244.9" stroke="#000" stroke-width="2.4"/>
<text x="478.93" y="1287.7" text-anchor="middle" font-size="43.5" textLength="124.6" lengthAdjust="spacingAndGlyphs">398.4</text>
<line x1="811.66" y1="1232.9" x2="811.66" y2="1244.9" stroke="#000" stroke-width="2.4"/>
<text x="811.66" y="1287.7" text-anchor="middle" font-size="43.5" textLength="124.6" lengthAdjust="spacingAndGlyphs">399.2</text>
<line x1="1144.40" y1="1232.9" x2="1144.40" y2="1244.9" stroke="#000" stroke-width="2.4"/>
<text x="1144.40" y="1287.7" text-anchor="middle" font-size="43.5" textLength="124.6" lengthAdjust="spacingAndGlyphs">400.0</text>
<text x="624.50" y="1342.3" text-anchor="middle" font-size="43.5" textLength="355.7" lengthAdjust="spacingAndGlyphs">Wavelength, nm</text>
<text transform="translate(34.7,1022.30) rotate(-90)" text-anchor="middle" font-size="43.5" textLength="424.5" lengthAdjust="spacingAndGlyphs">Intensity, arb. units</text>
<text x="105.1" y="800.30" font-size="43.5">×10<tspan dy="-16.5" font-size="30.45">5</tspan></text>
<g clip-path="url(#cb)" fill="none" stroke-linejoin="round" stroke-linecap="butt">
<path d="M103.2,1104.0 L108.2,1104.9 L113.2,1106.2 L118.2,1085.0 L123.2,1089.1 L128.2,1109.1 L133.2,1095.6 L138.1,1101.4 L143.1,1120.0 L148.1,1104.3 L153.1,1102.6 L158.1,1108.7 L163.1,1106.8 L168.1,1105.1 L173.0,1101.4 L178.0,1101.4 L183.0,1122.2 L188.0,1104.3 L193.0,1115.2 L198.0,1118.9 L202.9,1122.2 L207.9,1101.0 L212.9,1105.1 L217.9,1125.1 L222.9,1091.1 L227.9,1119.6 L232.9,1124.7 L237.8,1134.1 L242.8,1144.7 L247.8,1142.1 L252.8,1129.6 L257.8,1142.6 L262.8,1125.7 L267.8,1129.0 L272.7,1127.2 L277.7,1137.5 L282.7,1128.0 L287.7,1127.2 L292.7,1122.1 L297.7,1151.3 L302.6,1135.6 L307.6,1120.6 L312.6,1129.5 L317.6,1137.8 L322.6,1137.8 L327.6,1145.5 L332.6,1137.3 L337.5,1144.7 L342.5,1138.1 L347.5,1140.4 L352.5,1138.8 L357.5,1143.3 L362.5,1140.2 L367.5,1157.1 L372.4,1149.2 L377.4,1149.8 L382.4,1145.0 L387.4,1101.0 L392.4,1101.0 L397.4,1136.0 L402.3,1132.2 L407.3,1133.0 L412.3,1160.0 L417.3,1138.8 L422.3,1148.8 L427.3,1130.8 L432.3,1144.7 L437.2,1134.4 L442.2,1137.8 L447.2,1147.2 L452.2,1155.6 L457.2,1149.0 L462.2,1143.1 L467.2,1138.1 L472.1,1137.0 L477.1,1164.4 L482.1,1136.3 L487.1,1163.6 L492.1,1152.9 L497.1,1154.8 L502.0,1167.6 L507.0,1184.3 L512.0,1155.5 L517.0,1150.4 L522.0,1146.0 L527.0,1153.8 L532.0,1162.2 L536.9,1163.2 L541.9,1161.3 L546.9,1172.4 L551.9,1161.3 L556.9,1161.7 L561.9,1154.0 L566.9,1162.9 L571.8,1162.0 L576.8,1166.5 L581.8,1161.7 L586.8,1158.8 L591.8,1142.1 L596.8,1130.1 L601.7,1154.5 L606.7,1156.2 L611.7,1165.8 L616.7,1150.4 L621.7,1160.3 L626.7,1170.9 L631.7,1171.2 L636.6,1164.7 L641.6,1150.8 L646.6,1164.9 L651.6,1164.7 L656.6,1164.9 L661.6,1166.1 L666.6,1168.3 L671.5,1163.2 L676.5,1149.4 L681.5,1195.6 L686.5,1173.4 L691.5,1152.9 L696.5,1177.9 L701.4,1155.5 L706.4,1170.9 L711.4,1153.8 L716.4,1170.9 L721.4,1122.1 L726.4,1128.3 L731.4,1155.9 L736.3,1170.2 L741.3,1166.1 L746.3,1149.0 L751.3,1146.5 L756.3,1161.0 L761.3,1154.0 L766.3,1170.2 L771.2,1157.1 L776.2,1144.3 L781.2,1077.0 L786.2,1161.0 L791.2,1159.9 L796.2,1171.2 L801.1,1175.8 L806.1,1173.7 L811.1,1174.1 L816.1,1180.6 L821.1,1187.9 L826.1,1192.0 L831.1,1167.1 L836.0,1175.8 L841.0,1174.8 L846.0,1175.3 L851.0,1155.5 L856.0,1154.3 L861.0,1189.1 L866.0,1181.9 L870.9,1183.1 L875.9,1174.8 L880.9,1169.0 L885.9,1161.7 L890.9,1177.0 L895.9,1174.4 L900.8,1177.4 L905.8,1177.0 L910.8,1180.3 L915.8,1181.1 L920.8,1179.2 L925.8,1168.3 L930.8,1164.2 L935.7,1172.6 L940.7,1174.8 L945.7,1172.6 L950.7,1194.2 L955.7,1183.5 L960.7,1172.6 L965.7,1179.9 L970.6,1176.3 L975.6,1175.6 L980.6,1178.0 L985.6,1172.9 L990.6,1176.0 L995.6,1177.0 L1000.5,1174.8 L1005.5,1170.8 L1010.5,1182.1 L1015.5,1186.0 L1020.5,1180.6 L1025.5,1171.5 L1030.5,1201.7 L1035.4,1176.3 L1040.4,1146.5 L1045.4,1170.5 L1050.4,1185.7 L1055.4,1176.6 L1060.4,1177.4 L1065.4,1183.1 L1070.3,1170.8 L1075.3,1187.6 L1080.3,1188.6 L1085.3,1178.5 L1090.3,1181.4 L1095.3,1133.4 L1100.2,1230.9 L1143.2,1230.9" stroke="#f00" stroke-width="4.5"/>
<path d="M103.2,1203.6 L108.2,1202.4 L113.2,1200.7 L118.2,1181.7 L123.2,1189.4 L128.2,1195.6 L133.2,1186.0 L138.1,1198.1 L143.1,1206.1 L148.1,1197.4 L153.1,1190.7 L158.1,1196.6 L163.1,1201.4 L168.1,1189.7 L173.0,1189.7 L178.0,1188.9 L183.0,1200.0 L188.0,1174.7 L193.0,1191.5 L198.0,1198.1 L202.9,1202.9 L207.9,1184.6 L212.9,1192.3 L217.9,1206.1 L222.9,1192.6 L227.9,1195.2 L232.9,1199.5 L237.8,1209.7 L242.8,1219.2 L247.8,1206.8 L252.8,1195.0 L257.8,1210.9 L262.8,1199.5 L267.8,1195.9 L272.7,1195.5 L277.7,1197.4 L282.7,1185.3 L287.7,1189.1 L292.7,1188.9 L297.7,1220.6 L302.6,1211.2 L307.6,1191.8 L312.6,1200.7 L317.6,1193.3 L322.6,1193.4 L327.6,1204.3 L332.6,1202.4 L337.5,1203.6 L342.5,1192.6 L347.5,1196.3 L352.5,1191.4 L357.5,1201.7 L362.5,1203.9 L367.5,1212.3 L372.4,1210.4 L377.4,1210.4 L382.4,1218.9 L387.4,1187.5 L392.4,1205.8 L397.4,1205.3 L402.3,1188.9 L407.3,1205.8 L412.3,1198.1 L417.3,1195.9 L422.3,1208.7 L427.3,1186.3 L432.3,1205.1 L437.2,1186.0 L442.2,1206.5 L447.2,1203.2 L452.2,1197.4 L457.2,1196.6 L462.2,1191.5 L467.2,1193.7 L472.1,1188.9 L477.1,1208.0 L482.1,1188.6 L487.1,1213.1 L492.1,1200.3 L497.1,1198.4 L502.0,1211.9 L507.0,1211.9 L512.0,1207.5 L517.0,1200.3 L522.0,1194.0 L527.0,1204.6 L532.0,1205.8 L536.9,1196.9 L541.9,1203.2 L546.9,1221.8 L551.9,1200.3 L556.9,1198.1 L561.9,1200.3 L566.9,1211.9 L571.8,1212.3 L576.8,1209.0 L581.8,1208.5 L586.8,1208.3 L591.8,1189.4 L596.8,1176.6 L601.7,1206.8 L606.7,1214.8 L611.7,1222.5 L616.7,1199.8 L621.7,1205.3 L626.7,1211.3 L631.7,1205.6 L636.6,1211.6 L641.6,1202.7 L646.6,1222.9 L651.6,1196.9 L656.6,1203.2 L661.6,1207.5 L666.6,1206.5 L671.5,1203.2 L676.5,1188.2 L681.5,1226.9 L686.5,1217.7 L691.5,1190.7 L696.5,1223.2 L701.4,1199.1 L706.4,1232.7 L711.4,1207.1 L716.4,1213.8 L721.4,1207.5 L726.4,1205.3 L731.4,1196.2 L736.3,1208.7 L741.3,1203.9 L746.3,1201.7 L751.3,1182.4 L756.3,1210.9 L761.3,1199.8 L766.3,1204.6 L771.2,1206.8 L776.2,1210.1 L781.2,1209.0 L786.2,1198.4 L791.2,1206.1 L796.2,1206.8 L801.1,1221.0 L806.1,1216.2 L811.1,1214.4 L816.1,1215.5 L821.1,1218.9 L826.1,1217.7 L831.1,1191.8 L836.0,1203.2 L841.0,1212.6 L846.0,1222.5 L851.0,1200.3 L856.0,1198.4 L861.0,1217.0 L866.0,1222.5 L870.9,1209.7 L875.9,1201.0 L880.9,1198.8 L885.9,1196.2 L890.9,1218.1 L895.9,1204.9 L900.8,1205.3 L905.8,1212.3 L910.8,1214.8 L915.8,1219.2 L920.8,1209.7 L925.8,1193.7 L930.8,1198.1 L935.7,1214.1 L940.7,1221.8 L945.7,1210.7 L950.7,1236.2 L955.7,1207.8 L960.7,1212.6 L965.7,1216.2 L970.6,1213.8 L975.6,1212.3 L980.6,1208.1 L985.6,1217.4 L990.6,1194.4 L995.6,1210.9 L1000.5,1200.3 L1005.5,1198.8 L1010.5,1212.6 L1015.5,1217.7 L1020.5,1219.2 L1025.5,1219.9 L1030.5,1236.2 L1035.4,1211.2 L1040.4,1193.3 L1045.4,1214.2 L1050.4,1204.6 L1055.4,1201.3 L1060.4,1208.3 L1065.4,1219.2 L1070.3,1209.3 L1075.3,1217.4 L1080.3,1216.2 L1085.3,1210.4 L1090.3,1208.5 L1095.3,1211.2 L1100.2,1230.9 L1143.2,1230.9" stroke="#00f" stroke-width="4.5"/>
</g>
</svg>
</body></html>
